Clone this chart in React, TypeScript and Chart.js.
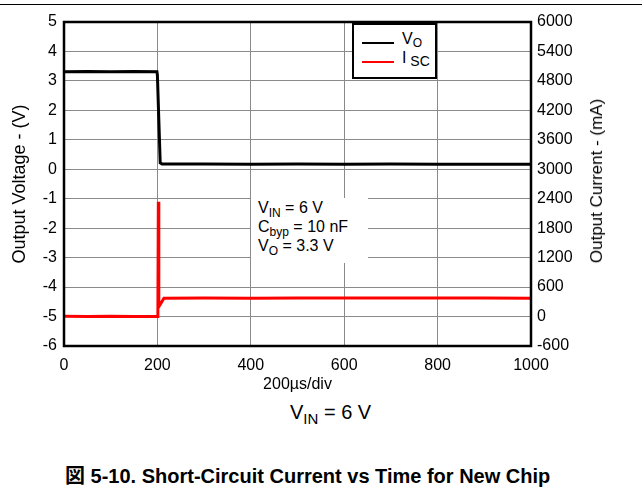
import React, { useEffect, useRef } from "react";
import { Chart, registerables } from "chart.js";

Chart.register(...registerables);

// ---- data ----
const xTicksMin = 0;
const xTicksMax = 1000;
const xTickStep = 200;
const voltMin = -6;
const voltMax = 5;
const voltStep = 1;
const currMin = -600;
const currMax = 6000;
const currStep = 600;

// Output voltage V_O (V) vs time (µs)
const voTime = [0, 50, 100, 150, 199, 200, 203, 206, 210, 300, 400, 500, 600, 700, 800, 900, 1000];
const voValue = [3.31, 3.32, 3.31, 3.32, 3.31, 3.2, 1.7, 0.22, 0.18, 0.18, 0.17, 0.18, 0.17, 0.18, 0.17, 0.17, 0.17];

// Short-circuit current I_SC (mA) vs time (µs)
const iscTime = [0, 50, 100, 150, 201, 202, 203, 214, 300, 400, 500, 600, 700, 800, 900, 1000];
const iscValue = [5, 0, 8, 0, 0, 2340, 200, 375, 378, 375, 378, 376, 378, 376, 376, 375];

const FONT = "'Liberation Sans', Arial, sans-serif";

const framePlugin = {
  id: "frame",
  afterDatasetsDraw(chart: any) {
    const { ctx, chartArea: a } = chart;
    ctx.save();
    ctx.strokeStyle = "#000";
    ctx.lineWidth = 2.5;
    ctx.strokeRect(a.left, a.top, a.right - a.left, a.bottom - a.top);
    ctx.restore();
  },
};

const plain = (v: any) => String(v);

export default function App() {
  const ref = useRef<HTMLCanvasElement | null>(null);

  useEffect(() => {
    if (!ref.current) return;
    Chart.defaults.font.family = FONT;
    Chart.defaults.color = "#000";
    const grid = { color: "#8a8a8a", lineWidth: 1, drawTicks: false };
    const chart = new Chart(ref.current, {
      type: "line",
      data: {
        datasets: [
          {
            label: "VO",
            data: voTime.map((t, i) => ({ x: t, y: voValue[i] })),
            borderColor: "#000",
            borderWidth: 3,
            pointRadius: 0,
            tension: 0,
            yAxisID: "y",
          },
          {
            label: "ISC",
            data: iscTime.map((t, i) => ({ x: t, y: iscValue[i] })),
            borderColor: "#ff0000",
            borderWidth: 3,
            pointRadius: 0,
            tension: 0,
            yAxisID: "y1",
          },
        ],
      },
      options: {
        animation: false,
        responsive: false,
        layout: { padding: { top: 22, left: 0, right: 0, bottom: 0 } },
        plugins: { legend: { display: false }, tooltip: { enabled: false } },
        scales: {
          x: {
            type: "linear",
            min: xTicksMin,
            max: xTicksMax,
            ticks: { stepSize: xTickStep, padding: 10, font: { size: 16 }, callback: plain },
            grid,
            border: { display: false },
            title: {
              display: true,
              text: "200µs/div",
              font: { size: 16 },
              padding: { top: 0, bottom: 6 },
            },
            afterFit: (s: any) => {
              s.height = 54;
            },
          },
          y: {
            type: "linear",
            position: "left",
            min: voltMin,
            max: voltMax,
            ticks: { stepSize: voltStep, padding: 7, font: { size: 16 }, callback: plain },
            grid,
            border: { display: false },
            title: {
              display: true,
              text: "Output Voltage - (V)",
              font: { size: 18 },
              padding: { top: 9, bottom: 0 },
            },
            afterFit: (s: any) => {
              s.width = 64;
            },
          },
          y1: {
            type: "linear",
            position: "right",
            min: currMin,
            max: currMax,
            ticks: { stepSize: currStep, padding: 6, font: { size: 16 }, callback: plain },
            grid: { drawOnChartArea: false, drawTicks: false },
            border: { display: false },
            afterFit: (s: any) => {
              s.width = 111;
            },
          },
        },
      },
      plugins: [framePlugin],
    });
    return () => chart.destroy();
  }, []);

  const sub = (t: string, size = 11, drop = 4): React.ReactNode => (
    <span style={{ fontSize: size, position: "relative", top: drop }}>{t}</span>
  );

  return (
    <div
      style={{
        position: "fixed",
        left: 0,
        top: 0,
        width: 642,
        height: 493,
        background: "#fff",
        overflow: "hidden",
        fontFamily: FONT,
        color: "#000",
      }}
    >
      <div style={{ position: "absolute", left: 0, top: 4, width: 642, height: 1, background: "#000" }} />
      <canvas ref={ref} width={642} height={400} style={{ position: "absolute", left: 0, top: 0, width: 642, height: 400 }} />

      {/* legend */}
      <div
        style={{
          position: "absolute",
          left: 352,
          top: 23,
          width: 85,
          height: 56,
          boxSizing: "border-box",
          border: "2px solid #000",
          background: "#fff",
        }}
      >
        <div style={{ position: "absolute", left: 8, top: 17, width: 32, height: 2, background: "#000" }} />
        <div style={{ position: "absolute", left: 8, top: 36, width: 32, height: 2, background: "#ff0000" }} />
        <div style={{ position: "absolute", left: 48, top: 5, fontSize: 16, lineHeight: "18px", whiteSpace: "nowrap" }}>
          V{sub("O", 12, 3)}
        </div>
        <div style={{ position: "absolute", left: 48, top: 24, fontSize: 16, lineHeight: "18px", whiteSpace: "nowrap" }}>
          I{sub(" SC", 14, 3)}
        </div>
      </div>

      {/* conditions annotation */}
      <div
        style={{
          position: "absolute",
          left: 251,
          top: 198,
          width: 117,
          height: 65,
          background: "#fff",
          boxSizing: "border-box",
          paddingLeft: 7,
          paddingTop: 1,
          fontSize: 16,
          lineHeight: "18px",
          whiteSpace: "nowrap",
        }}
      >
        <div>V{sub("IN", 12)} = 6 V</div>
        <div>C{sub("byp", 12)} = 10 nF</div>
        <div>V{sub("O", 12)} = 3.3 V</div>
      </div>

      {/* right axis title */}
      <div
        style={{
          position: "absolute",
          left: 597,
          top: 181,
          transform: "translate(-50%, -50%) rotate(-90deg)",
          fontSize: 17,
          whiteSpace: "nowrap",
        }}
      >
        Output Current - (mA)
      </div>

      <div style={{ position: "absolute", left: 290, top: 400, fontSize: 20, lineHeight: "24px", whiteSpace: "nowrap" }}>
        V{sub("IN", 15, 5)} = 6 V
      </div>

      <div
        style={{
          position: "absolute",
          left: 65,
          top: 464,
          fontSize: 20,
          fontWeight: "bold",
          lineHeight: "24px",
          whiteSpace: "nowrap",
          fontFamily: "'Liberation Sans', Arial, 'Noto Sans CJK JP', sans-serif",
        }}
      >
        図 5-10. Short-Circuit Current vs Time for New Chip
      </div>
    </div>
  );
}
